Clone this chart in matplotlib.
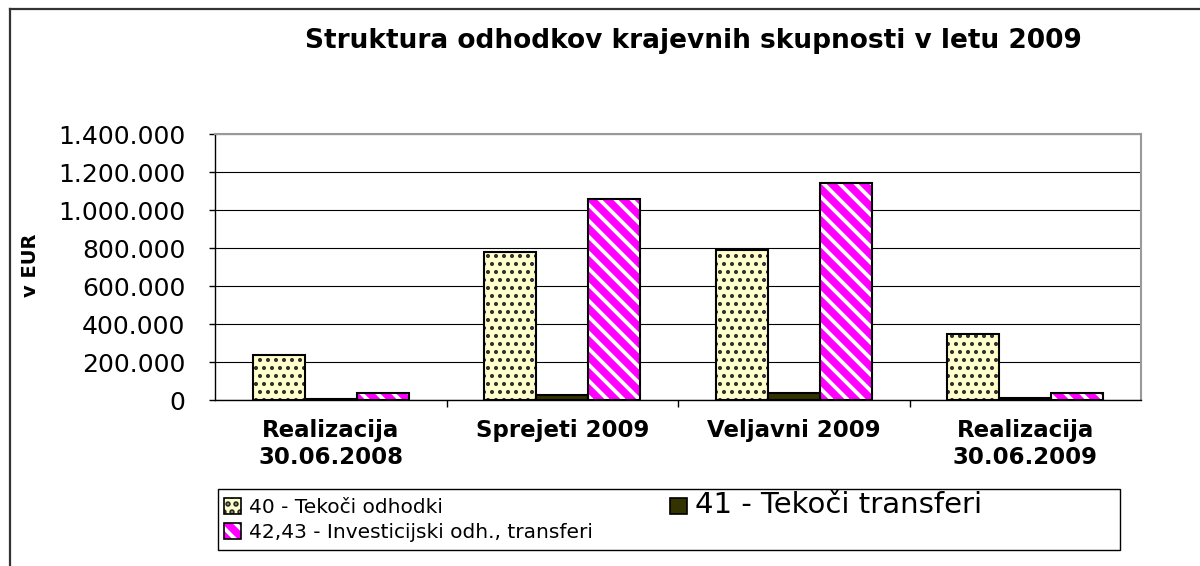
import numpy as np
import matplotlib
matplotlib.use("Agg")
import matplotlib.pyplot as plt
from matplotlib.patches import Rectangle, Patch
from matplotlib.lines import Line2D
from matplotlib.legend_handler import HandlerTuple
from matplotlib.ticker import FuncFormatter, MultipleLocator

# ---- data ----
categories = ["Realizacija\n30.06.2008", "Sprejeti 2009", "Veljavni 2009", "Realizacija\n30.06.2009"]
tekoci_odhodki = [235000, 780000, 790000, 345000]
tekoci_transferi = [5000, 28000, 35000, 8000]
investicijski = [35000, 1058000, 1140000, 38000]
series_labels = ["40 - Tekoči odhodki", "41 - Tekoči transferi", "42,43 - Investicijski odh., transferi"]
title = "Struktura odhodkov krajevnih skupnosti v letu 2009"
ylabel = "v EUR"

DPI = 144
S = 100 / DPI  # sizes below are written as if at 100 dpi

plt.rcParams['font.family'] = ['DejaVu Sans']

W, H = 1200, 566
fig = plt.figure(figsize=(W / DPI, H / DPI), dpi=DPI)
ax = fig.add_axes([215 / W, 1 - 400 / H, (1141 - 215) / W, (400 - 134) / H])

x = np.arange(len(categories))
bw = 0.225

yellow_face = "#FFFFCC"
dark_face = "#333300"
magenta_face = "#FF00FF"
dot_col = "#2a2a2a"
DOT_LW = 1.2
STRIPE_LW = 1.9
DOT_HATCH = "..."
STRIPE_HATCH = "\\\\\\"


def set_hlw(patches, lw):
    for p in patches:
        if hasattr(p, "set_hatch_linewidth"):
            p.set_hatch_linewidth(lw)


# yellow dotted
plt.rcParams['hatch.linewidth'] = DOT_LW
b1 = ax.bar(x - bw, tekoci_odhodki, bw, color=yellow_face, edgecolor=dot_col, linewidth=0,
            hatch=DOT_HATCH, zorder=2)
set_hlw(b1, DOT_LW)
ax.bar(x - bw, tekoci_odhodki, bw, facecolor="none", edgecolor="black", linewidth=1.5 * S, zorder=3)
# dark
ax.bar(x, tekoci_transferi, bw, color=dark_face, edgecolor="black", linewidth=1.5 * S, zorder=3)
# magenta striped
plt.rcParams['hatch.linewidth'] = STRIPE_LW
b3 = ax.bar(x + bw, investicijski, bw, color=magenta_face, edgecolor="white", linewidth=0,
            hatch=STRIPE_HATCH, zorder=2)
set_hlw(b3, STRIPE_LW)
ax.bar(x + bw, investicijski, bw, facecolor="none", edgecolor="black", linewidth=1.5 * S, zorder=3)

ax.set_xlim(-0.5, len(categories) - 0.5)
ax.set_ylim(0, 1400000)
ax.yaxis.set_major_locator(MultipleLocator(200000))
ax.yaxis.set_major_formatter(FuncFormatter(lambda v, p: f"{int(v):,}".replace(",", ".")))
ax.grid(axis="y", color="black", linewidth=0.8 * S, zorder=0)
ax.set_axisbelow(True)

ax.tick_params(axis="y", length=4 * S, width=1 * S, pad=17.5 * S, labelsize=18 * S, direction="out")
ax.set_xticks(x)
ax.set_xticklabels(categories, fontsize=16.5 * S, fontweight="bold", linespacing=1.2)
ax.tick_params(axis="x", which="major", length=0, pad=14 * S)
ax.set_xticks(np.arange(0.5, len(categories) - 0.5, 1.0), minor=True)
ax.tick_params(axis="x", which="minor", length=5 * S, width=1 * S, direction="out")

for s in ["left", "bottom"]:
    ax.spines[s].set_color("black")
    ax.spines[s].set_linewidth(1 * S)
for s in ["top", "right"]:
    ax.spines[s].set_color("#999999")
    ax.spines[s].set_linewidth(1.5 * S)

fig.text(30 / W, 1 - 265 / H, ylabel, rotation=90, ha="center", va="center",
         fontsize=14 * S, fontweight="bold")
fig.text(693 / W, 1 - 41 / H, title, ha="center", va="center", fontsize=19 * S, fontweight="bold")

# outer chart frame
fig.add_artist(Line2D([10 / W, 1], [1 - 9 / H, 1 - 9 / H], transform=fig.transFigure,
                      color="#333333", linewidth=1.6 * S))
fig.add_artist(Line2D([10 / W, 10 / W], [0, 1 - 9 / H], transform=fig.transFigure,
                      color="#333333", linewidth=1.6 * S))

# legend
plt.rcParams['hatch.linewidth'] = DOT_LW
hy = Patch(facecolor=yellow_face, edgecolor=dot_col, linewidth=0, hatch=DOT_HATCH)
set_hlw([hy], DOT_LW)
plt.rcParams['hatch.linewidth'] = STRIPE_LW
hm = Patch(facecolor=magenta_face, edgecolor="white", linewidth=0, hatch=STRIPE_HATCH)
set_hlw([hm], STRIPE_LW)
h_yel = (hy, Patch(facecolor="none", edgecolor="black", linewidth=1.2 * S))
h_dark = Patch(facecolor=dark_face, edgecolor="black", linewidth=1.2 * S)
h_mag = (hm, Patch(facecolor="none", edgecolor="black", linewidth=1.2 * S))
leg = fig.legend([h_yel, h_mag, h_dark], [series_labels[0], series_labels[2], series_labels[1]],
                 handler_map={tuple: HandlerTuple(ndivide=1)},
                 loc="upper left", bbox_to_anchor=(224 / W, 1 - 491 / H), ncol=2,
                 frameon=False, fontsize=14.5 * S, handlelength=0.85, handleheight=0.85,
                 handletextpad=0.4, columnspacing=3.8, borderaxespad=0, borderpad=0,
                 labelspacing=0.3)
leg.get_texts()[2].set_fontsize(21 * S)
fig.add_artist(Rectangle((218 / W, 1 - 550 / H), (1120 - 218) / W, (550 - 489) / H,
                         transform=fig.transFigure, facecolor="none", edgecolor="black",
                         linewidth=1 * S))

fig.savefig("out.png", dpi=DPI)
